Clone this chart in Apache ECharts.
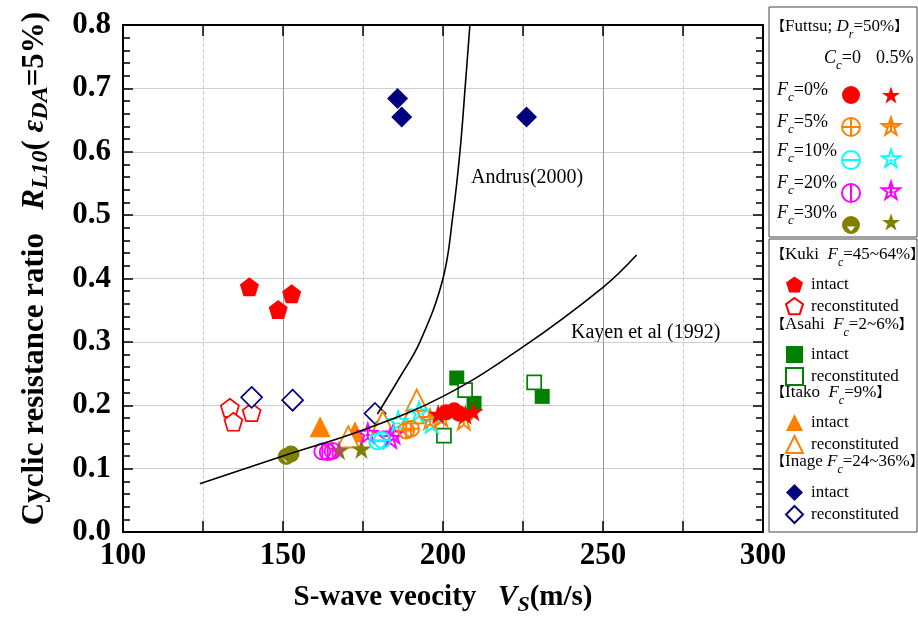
<!DOCTYPE html>
<html>
<head>
<meta charset="utf-8">
<script src="https://cdn.jsdelivr.net/npm/echarts@6/dist/echarts.min.js"></script>
<style>
  html, body { margin: 0; padding: 0; background: #fff; }
  #main { width: 918px; height: 617px; }
</style>
</head>
<body>
<div id="main"></div>
<script>
'use strict';
// ---- data [Vs (m/s), RL10] ----
// Futtsu, Dr=50%
var futtsuF0C0 = [[201, 0.189], [203.5, 0.192], [205, 0.187]];
var futtsuF0C5 = [[198.5, 0.186], [207, 0.185], [209.5, 0.19]];
var futtsuF5C0 = [[188.5, 0.160], [190, 0.163]];
var futtsuF5C5 = [[196, 0.178], [199.5, 0.182], [206.5, 0.177]];
var futtsuF10C0 = [[179.5, 0.143], [181, 0.145]];
var futtsuF10C5 = [[186, 0.175], [192.5, 0.19], [196.5, 0.172]];
var futtsuF20C0 = [[162.3, 0.127], [164, 0.126], [165.5, 0.128]];
var futtsuF20C5 = [[176.5, 0.156], [183.5, 0.148], [184.5, 0.155]];
var futtsuF30C0 = [[151, 0.119], [152.5, 0.123]];
var futtsuF30C5 = [[167.5, 0.129], [174.5, 0.131]];
// other sites
var kukiIntact = [[139.5, 0.387], [148.5, 0.351], [152.7, 0.376]];
var kukiRecon = [[133.4, 0.196], [134.5, 0.174], [140.2, 0.189]];
var asahiIntact = [[204.3, 0.243], [209.7, 0.203], [231, 0.214]];
var asahiRecon = [[206.9, 0.224], [200.3, 0.152], [228.5, 0.236]];
var itakoIntact = [[161.6, 0.166], [172.5, 0.158]];
var itakoRecon = [[170.4, 0.15], [181.2, 0.174], [190.6, 0.188], [191.8, 0.208]];
var inageIntact = [[185.8, 0.684], [187.1, 0.655], [226.1, 0.655]];
var inageRecon = [[140.2, 0.2125], [153, 0.208], [178.75, 0.187]];
// curves
var kayenCurve = [[124, 0.076], [150, 0.12], [175, 0.161], [200, 0.214], [225, 0.292], [250, 0.386], [260.5, 0.437]];
var andrusCurve = [[179.5, 0.186], [186.6, 0.245], [192.8, 0.30], [200, 0.40], [203.1, 0.5], [205.3, 0.6], [206.9, 0.7], [208.4, 0.8]];

var futtsuRows = ['F_c=0%', 'F_c=5%', 'F_c=10%', 'F_c=20%', 'F_c=30%'];

var SERIF = '"Liberation Serif", "Times New Roman", "Noto Sans CJK JP", serif';

// symbols
var circlePath = 'M0,-48 A48,48 0 1,1 0,48 A48,48 0 1,1 0,-48 Z';
var starPath = 'M0,-50 L11.23,-15.45 L47.55,-15.45 L18.16,5.9 L29.39,40.45 L0,19.1 L-29.39,40.45 L-18.16,5.9 L-47.55,-15.45 L-11.23,-15.45 Z';
var pentaPath = 'M0,-50 L47.55,-15.45 L29.39,40.45 L-29.39,40.45 L-47.55,-15.45 Z';
var symCirclePlus = 'path://' + circlePath + ' M-48,0 L48,0 M0,-48 L0,48';
var symCircleMinus = 'path://' + circlePath + ' M-48,0 L48,0';
var symCircleBar = 'path://' + circlePath + ' M0,-48 L0,48';
var symCircleNotch = 'path://' + circlePath + ' M-22,8 L0,34 L22,8 Z';
var symStar = 'path://' + starPath;
var symStarCross = 'path://' + starPath + ' M-24,-4 L24,-4 M0,-30 L0,24';
var symStarMinus = 'path://' + starPath + ' M-9,6 L9,6';
var symStarBar = 'path://' + starPath + ' M0,-32 L0,26 M-10,4 L10,4';
var symPenta = 'path://' + pentaPath;

function scatter(name, data, symbol, size, fill, stroke, bw) {
  return {
    name: name,
    type: 'scatter',
    data: data,
    symbol: symbol,
    symbolSize: size,
    silent: true,
    itemStyle: { color: fill, borderColor: stroke, borderWidth: bw || 0, opacity: 1 }
  };
}

function curve(name, data) {
  return {
    name: name,
    type: 'line',
    data: data,
    smooth: 0.4,
    showSymbol: false,
    silent: true,
    lineStyle: { color: '#000', width: 1.6 }
  };
}

var clear = 'rgba(255,255,255,0)';
var series = [
  curve('Kayen', kayenCurve),
  curve('Andrus', andrusCurve),
  scatter('Kuki intact', kukiIntact, symPenta, 19, '#ff0000', '#ff0000', 0),
  scatter('Kuki reconstituted', kukiRecon, symPenta, 18, '#fff', '#ff0000', 1.7),
  scatter('Inage intact', inageIntact, 'diamond', 21, '#00007f', '#00007f', 0),
  scatter('Inage reconstituted', inageRecon, 'diamond', 21, '#fff', '#00007f', 1.7),
  scatter('Itako intact', itakoIntact, 'triangle', 21, '#ff8000', '#ff8000', 0),
  scatter('Itako reconstituted', itakoRecon, 'triangle', 21, '#fff', '#ff8000', 1.9),
  scatter('Asahi intact', asahiIntact, 'rect', 15, '#007f00', '#007f00', 0),
  scatter('Asahi reconstituted', asahiRecon, 'rect', 14, '#fff', '#007f00', 1.7),
  scatter('F30 C0', futtsuF30C0, symCircleNotch, 17, '#808000', '#808000', 0),
  scatter('F30 C5', futtsuF30C5, symStar, 20, '#808000', '#808000', 0),
  scatter('F20 C0', futtsuF20C0, symCircleBar, 16, clear, '#ff00ff', 1.9),
  scatter('F20 C5', futtsuF20C5, symStarBar, 19, clear, '#ff00ff', 1.9),
  scatter('F10 C0', futtsuF10C0, symCircleMinus, 16, clear, '#00ffff', 1.9),
  scatter('F10 C5', futtsuF10C5, symStarMinus, 19, clear, '#00ffff', 1.9),
  scatter('F5 C0', futtsuF5C0, symCirclePlus, 16, clear, '#ff8000', 1.9),
  scatter('F5 C5', futtsuF5C5, symStarCross, 19, clear, '#ff8000', 1.9),
  scatter('F0 C0', futtsuF0C0, 'circle', 16, '#ff0000', '#ff0000', 0),
  scatter('F0 C5', futtsuF0C5, symStar, 20, '#ff0000', '#ff0000', 0)
];

// legends: the symbols come from the series themselves
function siteLegend(names, top) {
  return {
    data: names,
    orient: 'vertical',
    left: 785,
    top: top,
    itemWidth: 17,
    itemHeight: 17,
    itemGap: 4,
    selectedMode: false,
    padding: 0,
    formatter: function (n) { return n.indexOf('intact') >= 0 ? 'intact' : 'reconstituted'; },
    textStyle: { fontFamily: SERIF, fontSize: 17, color: '#000', lineHeight: 17, padding: [0, 0, 0, 3] }
  };
}
function futtsuLegend(names, left) {
  return {
    data: names,
    orient: 'vertical',
    left: left,
    top: 86,
    itemWidth: 18,
    itemHeight: 18,
    itemGap: 13,
    selectedMode: false,
    padding: 0,
    formatter: function () { return ''; },
    textStyle: { fontSize: 1 }
  };
}

function richSet(size, sub) {
  return {
    n: { fontFamily: SERIF, fontSize: size, color: '#000', lineHeight: 28, verticalAlign: 'middle' },
    k: { fontFamily: SERIF, fontSize: size - 3, color: '#000', lineHeight: 28, verticalAlign: 'middle' },
    i: { fontFamily: SERIF, fontSize: size, fontStyle: 'italic', color: '#000', lineHeight: 28, verticalAlign: 'middle' },
    s: { fontFamily: SERIF, fontSize: sub, fontStyle: 'italic', color: '#000', lineHeight: sub, verticalAlign: 'bottom' }
  };
}
var richHead = richSet(17, 12);
var richRow = richSet(18, 13);

function label(text, left, cy, rich) {
  return {
    type: 'text',
    left: left,
    top: cy - 14,
    silent: true,
    style: { text: text, rich: rich, font: '18px ' + SERIF }
  };
}

var graphics = [
  { type: 'rect', silent: true, shape: { x: 769, y: 7, width: 148, height: 230 }, style: { fill: 'none', stroke: '#444', lineWidth: 1 } },
  { type: 'rect', silent: true, shape: { x: 769, y: 239, width: 148, height: 293 }, style: { fill: 'none', stroke: '#444', lineWidth: 1 } },
  label('{k|【}{n|Futtsu; }{i|D}{s|r}{n|=50%}{k|】}', 771, 32, richHead),
  label('{i|C}{s|c}{n|=0}', 824, 63, richRow),
  label('{n|0.5%}', 876, 63, richRow),
  label('{k|【}{n|Kuki  }{i|F}{s|c}{n|=45~64%}{k|】}', 771, 260, richHead),
  label('{k|【}{n|Asahi  }{i|F}{s|c}{n|=2~6%}{k|】}', 771, 330, richHead),
  label('{k|【}{n|Itako  }{i|F}{s|c}{n|=9%}{k|】}', 771, 398, richHead),
  label('{k|【}{n|Inage }{i|F}{s|c}{n|=24~36%}{k|】}', 771, 467, richHead),
  { type: 'text', left: 471, top: 168, silent: true, style: { text: 'Andrus(2000)', font: '20px ' + SERIF, fill: '#000' } },
  { type: 'text', left: 571, top: 323, silent: true, style: { text: 'Kayen et al (1992)', font: '20px ' + SERIF, fill: '#000' } }
];
var rowCenters = [95, 127, 156, 188, 218];
futtsuRows.forEach(function (r, k) {
  var parts = r.split('_c');
  graphics.push(label('{i|' + parts[0] + '}{s|c}{n|' + parts[1] + '}', 777, rowCenters[k], richRow));
});

var axisFont = { fontFamily: SERIF, fontWeight: 'bold', fontSize: 31, color: '#000' };
function nameRich(size, sub) {
  return {
    b: { fontFamily: SERIF, fontWeight: 'bold', fontSize: size, color: '#000', lineHeight: 36, verticalAlign: 'middle' },
    bi: { fontFamily: SERIF, fontWeight: 'bold', fontStyle: 'italic', fontSize: size, color: '#000', lineHeight: 36, verticalAlign: 'middle' },
    bs: { fontFamily: SERIF, fontWeight: 'bold', fontStyle: 'italic', fontSize: sub, color: '#000', lineHeight: sub, verticalAlign: 'bottom' }
  };
}
var frameLine = { onZero: false, lineStyle: { color: '#000', width: 2 } };
var tickStyle = { color: '#000', width: 1.5 };

var option = {
  animation: false,
  backgroundColor: '#fff',
  grid: { left: 123, right: 155, top: 25, bottom: 85, outerBoundsMode: 'none', containLabel: false },
  xAxis: [{
    type: 'value', min: 100, max: 300, interval: 50, position: 'bottom',
    axisLine: frameLine,
    axisTick: { inside: true, length: 11, lineStyle: tickStyle },
    minorTick: { show: true, splitNumber: 2, length: 11, lineStyle: tickStyle },
    splitLine: { show: true, lineStyle: { color: '#999', width: 1 } },
    minorSplitLine: { show: true, lineStyle: { color: '#c8c8c8', width: 1, type: 'dashed' } },
    axisLabel: Object.assign({ margin: 8 }, axisFont),
    name: '{b|S-wave veocity   }{bi|V}{bs|S}{b|(m/s)}',
    nameLocation: 'middle',
    nameGap: 48,
    nameTextStyle: { rich: nameRich(29, 22) }
  }, {
    type: 'value', min: 100, max: 300, interval: 50, position: 'top',
    axisLine: frameLine,
    axisTick: { inside: true, length: 11, lineStyle: tickStyle },
    minorTick: { show: true, splitNumber: 2, length: 11, lineStyle: tickStyle },
    splitLine: { show: false },
    axisLabel: { show: false }
  }],
  yAxis: [{
    type: 'value', min: 0, max: 0.8, interval: 0.1, position: 'left',
    axisLine: frameLine,
    axisTick: { inside: true, length: 10, lineStyle: tickStyle },
    minorTick: { show: true, splitNumber: 5, length: 7, lineStyle: tickStyle },
    splitLine: { show: true, lineStyle: { color: '#cfcfcf', width: 1.2 } },
    axisLabel: Object.assign({ margin: 12, formatter: function (v) { return v.toFixed(1); } }, axisFont),
    name: '{b|Cyclic resistance ratio   }{bi|R}{bs|L10}{b|( }{bi|ε}{bs|DA}{b|=5%)}',
    nameLocation: 'middle',
    nameRotate: 90,
    nameGap: 70,
    nameTextStyle: { rich: nameRich(31, 24), padding: [0, 0, 0, 20] }
  }, {
    type: 'value', min: 0, max: 0.8, interval: 0.1, position: 'right',
    axisLine: frameLine,
    axisTick: { inside: true, length: 10, lineStyle: tickStyle },
    minorTick: { show: true, splitNumber: 5, length: 7, lineStyle: tickStyle },
    splitLine: { show: false },
    axisLabel: { show: false }
  }],
  legend: [
    futtsuLegend(['F0 C0', 'F5 C0', 'F10 C0', 'F20 C0', 'F30 C0'], 841),
    futtsuLegend(['F0 C5', 'F5 C5', 'F10 C5', 'F20 C5', 'F30 C5'], 881),
    siteLegend(['Kuki intact', 'Kuki reconstituted'], 276),
    siteLegend(['Asahi intact', 'Asahi reconstituted'], 346),
    siteLegend(['Itako intact', 'Itako reconstituted'], 414),
    siteLegend(['Inage intact', 'Inage reconstituted'], 484)
  ],
  graphic: graphics,
  series: series
};

var chart = echarts.init(document.getElementById('main'), null, { renderer: 'canvas' });
chart.setOption(option);
</script>
</body>
</html>
